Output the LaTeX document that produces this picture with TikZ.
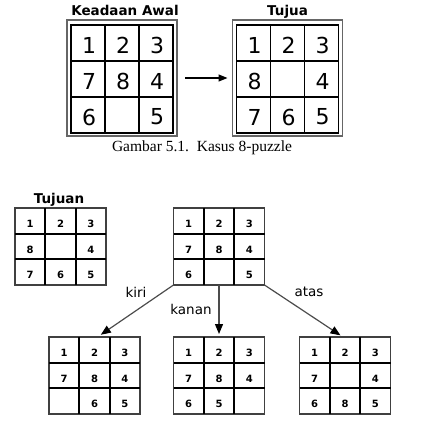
\documentclass[tikz,border=0pt]{standalone}
\usepackage{fontspec}
\setmainfont{Liberation Serif}
\newfontfamily\vfont{DejaVu Sans}
\usetikzlibrary{arrows.meta}
\tikzset{
  bigframe/.style={draw=black!60, line width=1.3pt, minimum width=110pt, minimum height=116pt, inner sep=0pt, outer sep=0pt},
  biggrid/.style={draw=black, line width=1.8pt, minimum width=102pt, minimum height=108pt, inner sep=0pt, outer sep=0pt},
  gridline/.style={line width=1.8pt, black},
  bigdigit/.style={font=\vfont\fontsize{22}{22}\selectfont, inner sep=0pt},
  sgrid/.style={draw=black!75, line width=1.4pt, minimum width=91pt, minimum height=77pt, inner sep=0pt, outer sep=0pt},
  sline/.style={line width=1.8pt, black},
  sdigit/.style={font=\vfont\bfseries\fontsize{10}{10}\selectfont, inner sep=0pt},
  titletext/.style={font=\vfont\bfseries\fontsize{13.5}{13.5}\selectfont, inner sep=0pt, anchor=base},
  movelabel/.style={font=\vfont\fontsize{13.5}{13.5}\selectfont, inner sep=0pt},
  captiontext/.style={font=\fontsize{15.5}{15.5}\selectfont, inner sep=0pt},
  movearrow/.style={draw=black!70, line width=1.2pt, -{Triangle[length=10pt,width=8pt,color=black]}},
  mainarrow/.style={draw=black, line width=1.2pt, -{Triangle[length=9pt,width=7pt]}},
}
% big puzzle: name, cx, cy, digit list
\newcommand{\bigpuzzle}[4]{%
  \node[bigframe] (#1f) at (#2,#3) {};
  \node[biggrid] (#1) at (#2,#3+1) {};
  \draw[gridline] (#2-17,#3-53) -- (#2-17,#3+55);
  \draw[gridline] (#2+17,#3-53) -- (#2+17,#3+55);
  \draw[gridline] (#2-51,#3-17) -- (#2+51,#3-17);
  \draw[gridline] (#2-51,#3+19) -- (#2+51,#3+19);
  \foreach \d [count=\i from 0] in {#4} {
    \pgfmathtruncatemacro\rr{int(\i/3)}
    \pgfmathtruncatemacro\cc{mod(\i,3)}
    \node[bigdigit] (#1d\i) at (#2+34*\cc-34+1,#3+36*\rr-36+3) {\d};
  }
}
% small puzzle: name, cx, cy, digit list
\newcommand{\smallpuzzle}[4]{%
  \node[sgrid] (#1) at (#2,#3) {};
  \draw[sline] (#2-15.17,#3-38.5) -- (#2-15.17,#3+38.5);
  \draw[sline] (#2+15.17,#3-38.5) -- (#2+15.17,#3+38.5);
  \draw[sline] (#2-45.5,#3-12.83) -- (#2+45.5,#3-12.83);
  \draw[sline] (#2-45.5,#3+12.83) -- (#2+45.5,#3+12.83);
  \foreach \d [count=\i from 0] in {#4} {
    \pgfmathtruncatemacro\rr{int(\i/3)}
    \pgfmathtruncatemacro\cc{mod(\i,3)}
    \node[sdigit] (#1d\i) at (#2+30.33*\cc-30.33,#3+25.67*\rr-25.67+3) {\d};
  }
}
\begin{document}
\begin{tikzpicture}[x=1pt,y=-1pt]
  \useasboundingbox[fill=white] (0,0) rectangle (446,423);
  % top figure
  \node[titletext] (lblawal) at (125,15) {Keadaan Awal};
  \node[titletext] (lbltujua) at (287.5,15) {Tujua};
  \bigpuzzle{awal}{122}{78}{1,2,3,7,8,4,6,{},5}
  \bigpuzzle{tujua}{287.5}{78}{1,2,3,8,{},4,7,6,5}
  \draw[mainarrow, shorten <=8pt, shorten >=5pt] (awalf.east) -- (tujuaf.west);
  \node[captiontext] (caption) at (202,148) {Gambar 5.1.\ \ Kasus 8-puzzle};
  % bottom figure
  \node[titletext] (lbltujuan) at (59,203) {Tujuan};
  \smallpuzzle{goal}{60.5}{246.5}{1,2,3,8,{},4,7,6,5}
  \smallpuzzle{start}{219}{246.5}{1,2,3,7,8,4,6,{},5}
  \smallpuzzle{left}{94.5}{375.5}{1,2,3,7,8,4,{},6,5}
  \smallpuzzle{mid}{219}{375.5}{1,2,3,7,8,4,6,5,{}}
  \smallpuzzle{right}{345}{375.5}{1,2,3,7,{},4,6,8,5}
  \draw[movearrow, shorten >=4pt] (start.south west) -- ([xshift=3pt]left.north);
  \draw[movearrow, shorten >=3pt] (start.south) -- (mid.north);
  \draw[movearrow, shorten >=3pt] (start.south east) -- ([xshift=-2pt]right.north);
  \node[movelabel] (lblkiri) at (136,292) {kiri};
  \node[movelabel] (lblkanan) at (191,309) {kanan};
  \node[movelabel] (lblatas) at (309,292) {atas};
\end{tikzpicture}
\end{document}
